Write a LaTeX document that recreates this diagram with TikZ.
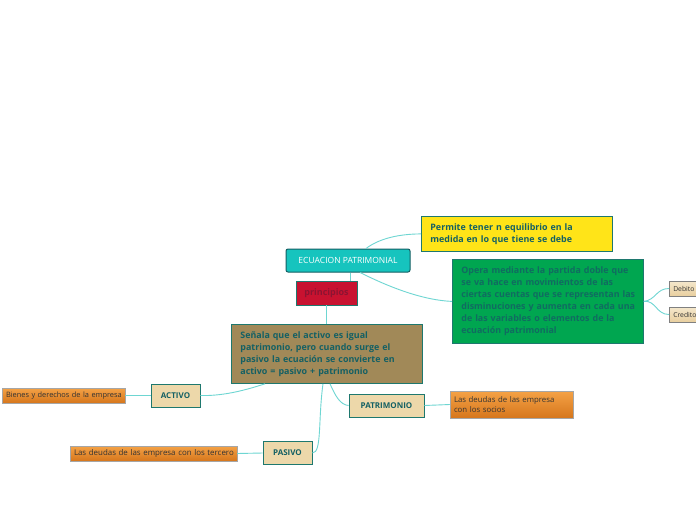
\documentclass[tikz,border=0pt]{standalone}
\usepackage{fontspec}
\setmainfont{Open Sans}
\usetikzlibrary{positioning, calc}
\definecolor{topicteal}{RGB}{22,196,190}
\definecolor{darkteal}{RGB}{20,96,100}
\definecolor{bordteal}{RGB}{30,120,110}
\definecolor{linkteal}{RGB}{110,214,210}
\definecolor{princred}{RGB}{200,18,48}
\definecolor{princtext}{RGB}{140,20,50}
\definecolor{noteyellow}{RGB}{255,228,24}
\definecolor{notegreen}{RGB}{0,166,80}
\definecolor{notebrown}{RGB}{161,137,88}
\definecolor{keytan}{RGB}{237,216,170}
\definecolor{leaftop}{RGB}{244,162,70}
\definecolor{leafbot}{RGB}{214,118,28}
\newcommand{\noteline}[1]{\mbox{#1}}

\begin{document}
\begin{tikzpicture}[x=1pt, y=-1pt,
    central/.style={
        rectangle, rounded corners=2pt, fill=topicteal, draw=darkteal, line width=1pt,
        minimum width=124pt, minimum height=23pt, inner sep=2pt,
        font=\fontsize{8.5}{10}\selectfont, text=white
    },
    princ/.style={
        rectangle, fill=princred, draw=bordteal, line width=0.8pt,
        minimum width=61pt, minimum height=24pt,
        font=\fontsize{9}{10}\selectfont\bfseries, text=princtext
    },
    note/.style={
        rectangle, draw=bordteal, line width=0.8pt, text width=173pt,
        inner xsep=9pt, inner ysep=4pt, align=left,
        font=\fontsize{8.9}{12}\selectfont\bfseries, text=darkteal
    },
    keybox/.style={
        rectangle, fill=keytan, draw=bordteal, line width=0.8pt,
        minimum height=23pt, inner xsep=8pt,
        font=\fontsize{8}{10}\selectfont\bfseries, text=darkteal
    },
    leaf/.style={
        rectangle, top color=leaftop, bottom color=leafbot, draw=gray!70, line width=0.5pt,
        minimum height=15pt, inner xsep=4pt, inner ysep=1pt, align=left,
        font=\fontsize{7.4}{10}\selectfont, text=black!80
    },
    tinyleaf/.style={
        rectangle, top color=keytan!60, bottom color=keytan!90!brown, draw=gray, line width=0.5pt,
        minimum height=15pt, minimum width=40pt, inner xsep=4pt, anchor=west,
        font=\fontsize{6.8}{8}\selectfont, text=black!80, text width=32pt, align=left
    },
    link/.style={draw=linkteal, line width=0.9pt}
]
\clip (0,0) rectangle (696,520);
\fill[white] (0,0) rectangle (696,520);

% --- central topic ---
\node[central] (ecua) at (348,260.5) {ECUACION PATRIMONIAL};
\node[princ] (princ) at (326.5,293) {principios};

% --- notes ---
\node[note, fill=noteyellow, minimum height=35pt, anchor=north west] (equil) at (421,216)
    {\noteline{Permite tener n equilibrio en la}\\\noteline{medida en lo que tiene se debe}};
\node[note, fill=notegreen, minimum height=84pt, anchor=north west, text=darkteal!85!notegreen] (opera) at (452,259)
    {\noteline{Opera mediante la partida doble que}\\\noteline{se va hace en movimientos de las}\\
     \noteline{ciertas cuentas que se representan las}\\\noteline{disminuciones y aumenta en cada una}\\
     \noteline{de las variables o elementos de la}\\\noteline{ecuación patrimonial}};
\node[note, fill=notebrown, minimum height=59pt, anchor=north west] (senala) at (231,324)
    {\noteline{Señala que el activo es igual}\\\noteline{patrimonio, pero cuando surge el}\\
     \noteline{pasivo la ecuación se convierte en}\\\noteline{activo = pasivo + patrimonio}};

% --- debito / credito ---
\node[tinyleaf] (debito) at (669,288.5) {Debito};
\node[tinyleaf] (credito) at (669,314.5) {Credito};

% --- key accounts ---
\node[keybox, minimum width=49pt] (activo) at (175.5,395.5) {ACTIVO};
\node[keybox, minimum width=75pt] (patri) at (386.5,405.5) {PATRIMONIO};
\node[keybox, minimum width=49pt] (pasivo) at (287.5,453) {PASIVO};

% --- leaves ---
\node[leaf, minimum width=123pt, text width=115pt] (bienes) at (63.5,395.5)
    {\noteline{Bienes y derechos de la empresa}};
\node[leaf, minimum width=123pt, minimum height=27pt, text width=115pt, font=\fontsize{7.8}{10}\selectfont] (socios) at (511.5,404.5)
    {\noteline{Las deudas de las empresa}\\\noteline{con los socios}};
\node[leaf, minimum width=167pt, text width=159pt, font=\fontsize{7.9}{10}\selectfont] (tercero) at (153.5,453.5)
    {\noteline{Las deudas de las empresa con los tercero}};

% --- connectors ---
\draw[link] ($(ecua.north)+(18,0)$) .. controls (380,238) and (400,234) .. (equil.west);
\draw[link] ($(ecua.south)+(12,0)$) .. controls (385,285) and (420,300) .. (opera.west);
\draw[link] ($(ecua.south)+(2,0)$) -- ($(princ.north)+(23.5,0)$);
\draw[link] (princ.south) -- (senala.north -| princ.south);
\draw[link] ($(senala.south west)+(34,0)$) .. controls (240,392) and (220,396) .. (activo.east);
\draw[link] ($(senala.south west)+(99,0)$) .. controls (335,395) and (340,405) .. (patri.west);
\draw[link] ($(senala.south west)+(92,0)$) .. controls (318,420) and (322,453) .. (pasivo.east);
\draw[link] (activo.west) -- (bienes.east);
\draw[link] (patri.east) -- (socios.west);
\draw[link] (pasivo.west) -- (tercero.east);
\draw[link] (opera.east) .. controls (656,300) and (656,288.5) .. (debito.west);
\draw[link] (opera.east) .. controls (656,300) and (656,314.5) .. (credito.west);
\end{tikzpicture}
\end{document}
